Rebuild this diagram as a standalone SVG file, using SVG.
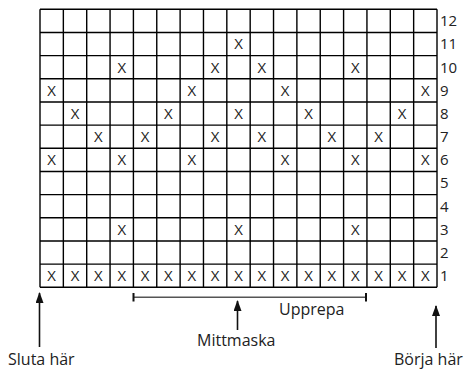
<svg xmlns="http://www.w3.org/2000/svg" width="466" height="369" viewBox="0 0 466 369">
<style>
text{font-family:"Open Sans","DejaVu Sans",sans-serif;fill:#222}
.x{font-size:15px;text-anchor:middle}
.n{font-size:15px}
.lbl{font-size:16px}
.grid{fill:none;stroke:#000;stroke-width:1.4}
.conn{stroke:#111;stroke-width:1.6;fill:none}
</style>
<defs>
<marker id="ah" markerWidth="11" markerHeight="8" refX="10" refY="4" orient="auto" markerUnits="userSpaceOnUse" viewBox="0 0 11 8">
<path d="M11 4 L0 0 L0 8 Z" fill="#111"/>
</marker>
</defs>
<rect width="466" height="369" fill="#fff"/>
<g id="grid">
<path class="grid" d="M40 9.3V287.3M63.35 9.3V287.3M86.71 9.3V287.3M110.06 9.3V287.3M133.41 9.3V287.3M156.76 9.3V287.3M180.12 9.3V287.3M203.47 9.3V287.3M226.82 9.3V287.3M250.18 9.3V287.3M273.53 9.3V287.3M296.88 9.3V287.3M320.24 9.3V287.3M343.59 9.3V287.3M366.94 9.3V287.3M390.29 9.3V287.3M413.65 9.3V287.3M437 9.3V287.3M40 9.3H437M40 32.47H437M40 55.63H437M40 78.8H437M40 101.97H437M40 125.13H437M40 148.3H437M40 171.47H437M40 194.63H437M40 217.8H437M40 240.97H437M40 264.13H437M40 287.3H437"/>
</g>
<g id="stitches" class="x">
<text class="x" x="238.5" y="49.4">X</text>
<text class="x" x="121.74" y="72.6">X</text><text class="x" x="215.15" y="72.6">X</text><text class="x" x="261.85" y="72.6">X</text><text class="x" x="355.26" y="72.6">X</text>
<text class="x" x="51.68" y="95.8">X</text><text class="x" x="191.79" y="95.8">X</text><text class="x" x="285.21" y="95.8">X</text><text class="x" x="425.32" y="95.8">X</text>
<text class="x" x="75.03" y="118.9">X</text><text class="x" x="168.44" y="118.9">X</text><text class="x" x="238.5" y="118.9">X</text><text class="x" x="308.56" y="118.9">X</text><text class="x" x="401.97" y="118.9">X</text>
<text class="x" x="98.38" y="142.1">X</text><text class="x" x="145.09" y="142.1">X</text><text class="x" x="215.15" y="142.1">X</text><text class="x" x="261.85" y="142.1">X</text><text class="x" x="331.91" y="142.1">X</text><text class="x" x="378.62" y="142.1">X</text>
<text class="x" x="51.68" y="165.3">X</text><text class="x" x="121.74" y="165.3">X</text><text class="x" x="191.79" y="165.3">X</text><text class="x" x="285.21" y="165.3">X</text><text class="x" x="355.26" y="165.3">X</text><text class="x" x="425.32" y="165.3">X</text>
<text class="x" x="121.74" y="234.8">X</text><text class="x" x="238.5" y="234.8">X</text><text class="x" x="355.26" y="234.8">X</text>
<text class="x" x="51.68" y="281.1">X</text><text class="x" x="75.03" y="281.1">X</text><text class="x" x="98.38" y="281.1">X</text><text class="x" x="121.74" y="281.1">X</text><text class="x" x="145.09" y="281.1">X</text><text class="x" x="168.44" y="281.1">X</text><text class="x" x="191.79" y="281.1">X</text><text class="x" x="215.15" y="281.1">X</text><text class="x" x="238.5" y="281.1">X</text><text class="x" x="261.85" y="281.1">X</text><text class="x" x="285.21" y="281.1">X</text><text class="x" x="308.56" y="281.1">X</text><text class="x" x="331.91" y="281.1">X</text><text class="x" x="355.26" y="281.1">X</text><text class="x" x="378.62" y="281.1">X</text><text class="x" x="401.97" y="281.1">X</text><text class="x" x="425.32" y="281.1">X</text>
</g>
<g id="rownumbers">
<text class="n" x="440" y="26.3">12</text>
<text class="n" x="440" y="49.4">11</text>
<text class="n" x="440" y="72.6">10</text>
<text class="n" x="440" y="95.8">9</text>
<text class="n" x="440" y="118.9">8</text>
<text class="n" x="440" y="142.1">7</text>
<text class="n" x="440" y="165.3">6</text>
<text class="n" x="440" y="188.4">5</text>
<text class="n" x="440" y="211.6">4</text>
<text class="n" x="440" y="234.8">3</text>
<text class="n" x="440" y="257.9">2</text>
<text class="n" x="440" y="281.1">1</text>
</g>
<g id="connectors">
<path class="conn" d="M39.5 347V293" marker-end="url(#ah)"/>
<path class="conn" d="M237.5 330V301" marker-end="url(#ah)"/>
<path class="conn" d="M436 348V306" marker-end="url(#ah)"/>
<path d="M133.5 297.3H366" stroke="#555" stroke-width="1.6"/>
<path d="M133.5 293V301.6M366 293V301.6" stroke="#111" stroke-width="2"/>
</g>
<g id="repeat"><text class="lbl" x="279" y="315">Upprepa</text></g>
<g id="center"><text class="lbl" x="197" y="346">Mittmaska</text></g>
<g id="end"><text class="lbl" x="8" y="365">Sluta här</text></g>
<g id="start"><text class="lbl" x="394" y="365">Börja här</text></g>
</svg>
